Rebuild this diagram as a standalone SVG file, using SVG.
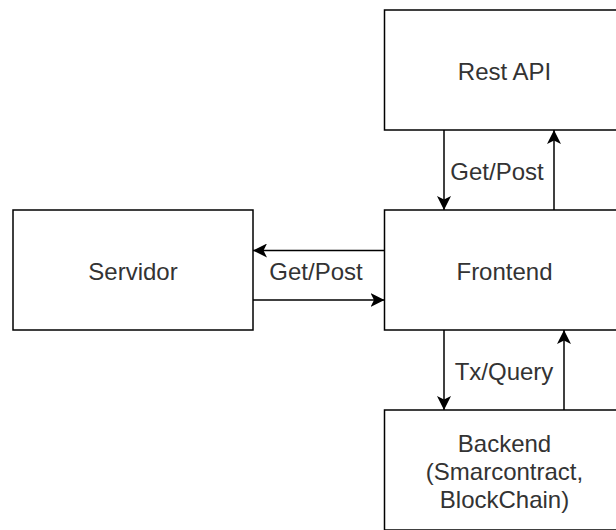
<svg xmlns="http://www.w3.org/2000/svg" width="616" height="530" viewBox="0 0 616 530">
  <style>
    .box { fill: #ffffff; stroke: #000000; stroke-width: 1.5; }
    .edge { fill: none; stroke: #000000; stroke-width: 1.5; marker-end: url(#arrow); }
    .label { font-family: "Liberation Sans", Arial, Helvetica, sans-serif; font-size: 24px; fill: #333333; text-anchor: middle; }
  </style>
  <defs>
    <marker id="arrow" markerUnits="userSpaceOnUse" markerWidth="14" markerHeight="14" viewBox="0 0 14 14" refX="14" refY="7" orient="auto">
      <path d="M14,7 L0,0 L3.5,7 L0,14 Z" fill="#000000"/>
    </marker>
  </defs>
  <rect width="616" height="530" fill="#ffffff"/>

  <g id="rest-api">
    <rect class="box" x="384.5" y="10" width="240" height="120"/>
    <text class="label" x="504.5" y="80">Rest API</text>
  </g>

  <g id="servidor">
    <rect class="box" x="13" y="210" width="240" height="120"/>
    <text class="label" x="133" y="280">Servidor</text>
  </g>

  <g id="frontend">
    <rect class="box" x="384.5" y="210" width="240" height="120"/>
    <text class="label" x="504.5" y="280">Frontend</text>
  </g>

  <g id="backend">
    <rect class="box" x="384.5" y="410" width="240" height="120"/>
    <text class="label" x="504.5" y="452">Backend</text>
    <text class="label" x="504.5" y="480">(Smarcontract,</text>
    <text class="label" x="504.5" y="508">BlockChain)</text>
  </g>

  <g id="connectors">
    <!-- Rest API <-> Frontend -->
    <path class="edge" d="M444,130 L444,210"/>
    <path class="edge" d="M554,210 L554,130"/>
    <text class="label" x="497" y="180">Get/Post</text>

    <!-- Frontend <-> Servidor -->
    <path class="edge" d="M384.5,250.5 L253,250.5"/>
    <path class="edge" d="M253,300 L384.5,300"/>
    <text class="label" x="316" y="280">Get/Post</text>

    <!-- Frontend <-> Backend -->
    <path class="edge" d="M444,330 L444,410"/>
    <path class="edge" d="M564,410 L564,330"/>
    <text class="label" x="504" y="380">Tx/Query</text>
  </g>
</svg>
